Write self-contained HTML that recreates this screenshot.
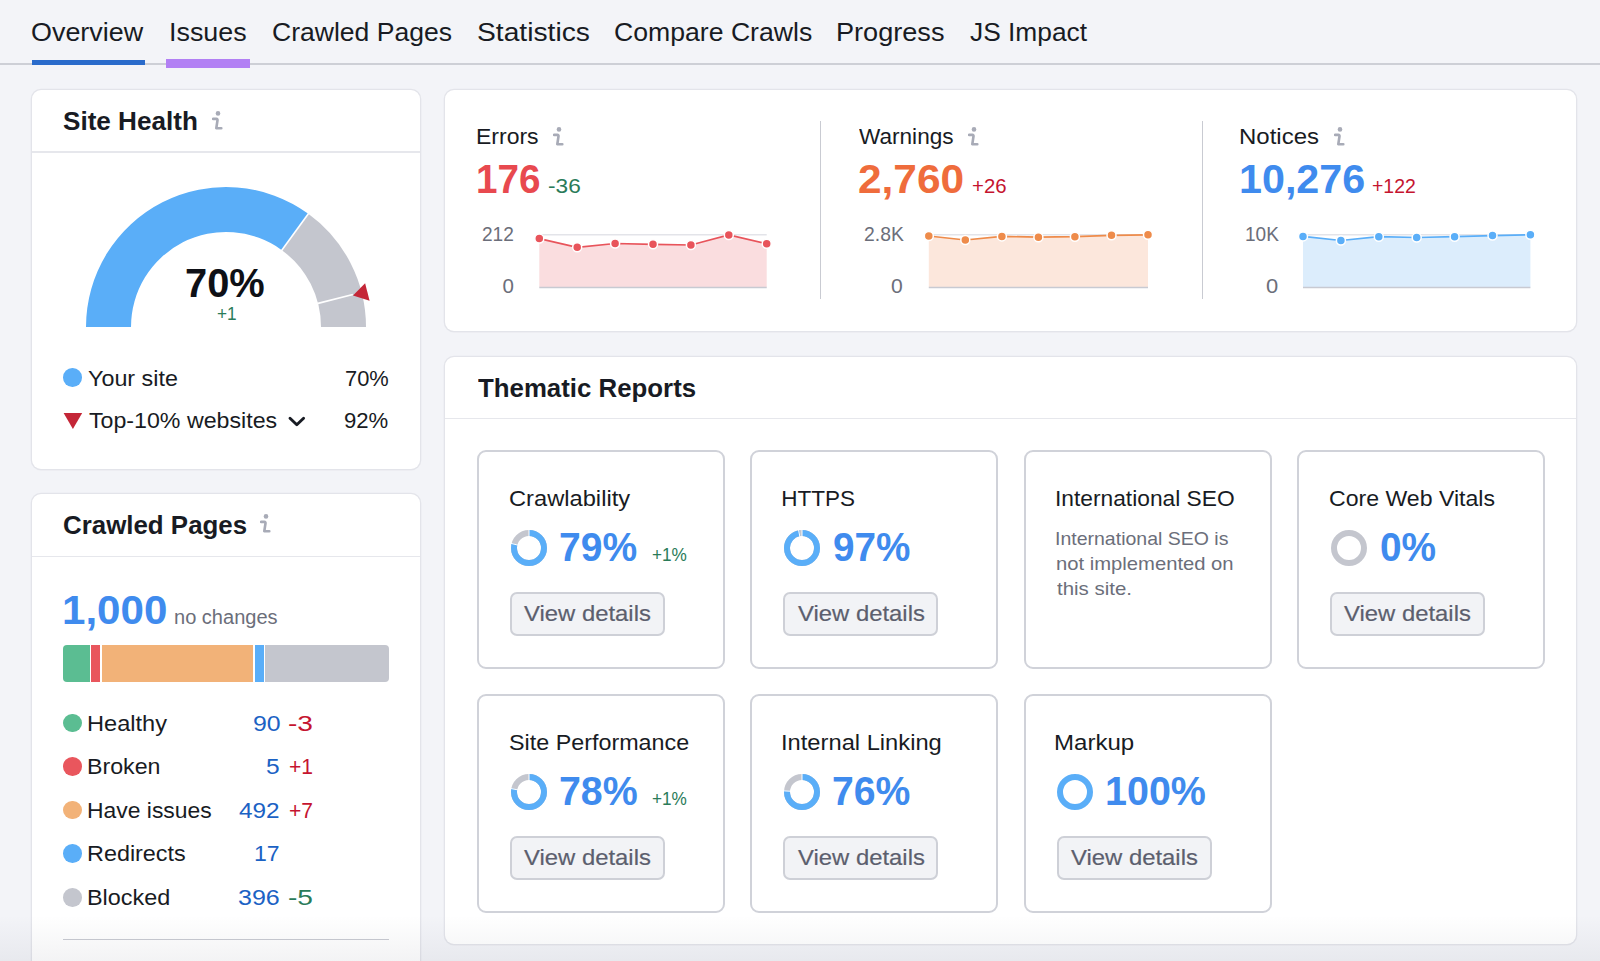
<!DOCTYPE html>
<html><head><meta charset="utf-8"><title>Site Audit Overview</title>
<style>
html,body{margin:0;padding:0;}
body{width:1600px;height:961px;overflow:hidden;position:relative;background:#F3F4F8;font-family:"Liberation Sans", sans-serif;-webkit-font-smoothing:antialiased;}
</style></head><body>
<div style="position:absolute;left:0;top:63px;width:1600px;height:2px;background:#CDCFD6"></div>
<div style="position:absolute;left:32px;top:60px;width:113px;height:5px;background:#2A6BCB"></div>
<div style="position:absolute;left:166px;top:59.2px;width:84px;height:9px;background:#B280F4"></div>
<div style="position:absolute;left:32px;top:90px;width:388px;height:378.8px;background:#fff;border-radius:9px;box-shadow:0 0 0 1.3px #E3E4EA, 0 1px 1.5px rgba(0,0,0,0.07)"></div>
<div style="position:absolute;left:32px;top:494px;width:388px;height:606px;background:#fff;border-radius:9px;box-shadow:0 0 0 1.3px #E3E4EA, 0 1px 1.5px rgba(0,0,0,0.07)"></div>
<div style="position:absolute;left:445px;top:89.5px;width:1131px;height:241.5px;background:#fff;border-radius:9px;box-shadow:0 0 0 1.3px #E3E4EA, 0 1px 1.5px rgba(0,0,0,0.07)"></div>
<div style="position:absolute;left:445px;top:356.5px;width:1131px;height:587.0px;background:#fff;border-radius:9px;box-shadow:0 0 0 1.3px #E3E4EA, 0 1px 1.5px rgba(0,0,0,0.07)"></div>
<div style="position:absolute;left:32px;top:151px;width:388px;height:1.5px;background:#E6E7EC"></div>
<div style="position:absolute;left:32px;top:555.5px;width:388px;height:1.5px;background:#E6E7EC"></div>
<div style="position:absolute;left:445px;top:417.5px;width:1131px;height:1.5px;background:#E6E7EC"></div>
<div style="position:absolute;left:63px;top:938.5px;width:325.5px;height:1.6px;background:#C9CBD2"></div>
<div style="position:absolute;left:819.5px;top:121px;width:1.5px;height:178px;background:#C9CBD2"></div>
<div style="position:absolute;left:1201.5px;top:121px;width:1.5px;height:178px;background:#C9CBD2"></div>
<svg style="position:absolute;left:211.5px;top:111px" width="11" height="20" viewBox="0 0 11 20"><circle cx="6.0" cy="2.4" r="2.3" fill="#A8ABB7"/><path d="M1.0 7.9 H4.4 Q5.7 7.9 5.5 9.3 L4.3 17.2 H9.3" fill="none" stroke="#A8ABB7" stroke-width="2.6" stroke-linecap="round" stroke-linejoin="round"/></svg>
<svg style="position:absolute;left:0;top:0" width="440" height="480"><path d="M86.00,327.00 A140,140 0 0 1 308.29,213.74 L281.84,250.14 A95,95 0 0 0 131.00,327.00 Z" fill="#5AAEF8"/><path d="M308.29,213.74 A140,140 0 0 1 366.00,327.00 L321.00,327.00 A95,95 0 0 0 281.84,250.14 Z" fill="#C4C6CE"/><line x1="281.25" y1="250.95" x2="308.88" y2="212.93" stroke="#fff" stroke-width="1.6"/><line x1="317.05" y1="303.62" x2="352.88" y2="294.42" stroke="#fff" stroke-width="1.6"/><polygon points="353,295.6 365.1,283.2 369.6,300.7" fill="#C42637"/></svg>
<div style="position:absolute;left:63px;top:368.2px;width:18.6px;height:18.6px;border-radius:50%;background:#5AAEF8"></div>
<svg style="position:absolute;left:63px;top:413px" width="20" height="17"><polygon points="0.6,0 19.2,0 9.9,16" fill="#C42637"/></svg>
<svg style="position:absolute;left:286px;top:413px" width="22" height="16"><polyline points="4,5.2 10.8,11.8 17.6,5.2" fill="none" stroke="#181B23" stroke-width="2.9" stroke-linecap="round" stroke-linejoin="round"/></svg>
<svg style="position:absolute;left:260px;top:514px" width="11" height="20" viewBox="0 0 11 20"><circle cx="6.0" cy="2.4" r="2.3" fill="#A8ABB7"/><path d="M1.0 7.9 H4.4 Q5.7 7.9 5.5 9.3 L4.3 17.2 H9.3" fill="none" stroke="#A8ABB7" stroke-width="2.6" stroke-linecap="round" stroke-linejoin="round"/></svg>
<div style="position:absolute;left:63px;top:644.6px;width:326px;height:37.4px;border-radius:4px;overflow:hidden;background:#fff"><div style="position:absolute;left:0.0px;top:0;width:27.0px;height:100%;background:#5BBD92"></div><div style="position:absolute;left:28.4px;top:0;width:8.6px;height:100%;background:#E9565D"></div><div style="position:absolute;left:38.6px;top:0;width:151.8px;height:100%;background:#F2B278"></div><div style="position:absolute;left:192.0px;top:0;width:8.6px;height:100%;background:#5AAEF8"></div><div style="position:absolute;left:202.3px;top:0;width:123.7px;height:100%;background:#C4C6CE"></div></div>
<div style="position:absolute;left:63px;top:713.6px;width:18.6px;height:18.6px;border-radius:50%;background:#5BBD92"></div>
<div style="position:absolute;left:63px;top:757.2px;width:18.6px;height:18.6px;border-radius:50%;background:#E9565D"></div>
<div style="position:absolute;left:63px;top:800.8px;width:18.6px;height:18.6px;border-radius:50%;background:#F2B278"></div>
<div style="position:absolute;left:63px;top:844.4px;width:18.6px;height:18.6px;border-radius:50%;background:#5AAEF8"></div>
<div style="position:absolute;left:63px;top:888.0px;width:18.6px;height:18.6px;border-radius:50%;background:#C4C6CE"></div>
<svg style="position:absolute;left:552.5px;top:127px" width="11" height="20" viewBox="0 0 11 20"><circle cx="6.0" cy="2.4" r="2.3" fill="#A8ABB7"/><path d="M1.0 7.9 H4.4 Q5.7 7.9 5.5 9.3 L4.3 17.2 H9.3" fill="none" stroke="#A8ABB7" stroke-width="2.6" stroke-linecap="round" stroke-linejoin="round"/></svg>
<svg style="position:absolute;left:0;top:0" width="1600" height="340"><line x1="539.3" y1="234.8" x2="766.7" y2="234.8" stroke="#E3E4E9" stroke-width="1.5"/><polygon points="539.3,287.6 539.3,238.6 577.2,247.3 615.1,243.5 653.0,244.3 690.9,245.0 728.8,235.0 766.7,243.7 766.7,287.6" fill="#FADDDF"/><line x1="539.3" y1="287.6" x2="766.7" y2="287.6" stroke="#C8CAD2" stroke-width="1.5"/><polyline points="539.3,238.6 577.2,247.3 615.1,243.5 653.0,244.3 690.9,245.0 728.8,235.0 766.7,243.7" fill="none" stroke="#E8545B" stroke-width="1.7"/><circle cx="539.3" cy="238.6" r="4.5" fill="#E8545B" stroke="#fff" stroke-width="1.5"/><circle cx="577.2" cy="247.3" r="4.5" fill="#E8545B" stroke="#fff" stroke-width="1.5"/><circle cx="615.1" cy="243.5" r="4.5" fill="#E8545B" stroke="#fff" stroke-width="1.5"/><circle cx="653.0" cy="244.3" r="4.5" fill="#E8545B" stroke="#fff" stroke-width="1.5"/><circle cx="690.9" cy="245.0" r="4.5" fill="#E8545B" stroke="#fff" stroke-width="1.5"/><circle cx="728.8" cy="235.0" r="4.5" fill="#E8545B" stroke="#fff" stroke-width="1.5"/><circle cx="766.7" cy="243.7" r="4.5" fill="#E8545B" stroke="#fff" stroke-width="1.5"/></svg>
<svg style="position:absolute;left:968px;top:127px" width="11" height="20" viewBox="0 0 11 20"><circle cx="6.0" cy="2.4" r="2.3" fill="#A8ABB7"/><path d="M1.0 7.9 H4.4 Q5.7 7.9 5.5 9.3 L4.3 17.2 H9.3" fill="none" stroke="#A8ABB7" stroke-width="2.6" stroke-linecap="round" stroke-linejoin="round"/></svg>
<svg style="position:absolute;left:0;top:0" width="1600" height="340"><line x1="928.8" y1="234.8" x2="1148" y2="234.8" stroke="#E3E4E9" stroke-width="1.5"/><polygon points="928.8,287.6 928.8,236.0 965.3,240.0 1001.9,236.4 1038.4,237.2 1074.9,236.7 1111.5,235.3 1148.0,234.8 1148.0,287.6" fill="#FCE7DC"/><line x1="928.8" y1="287.6" x2="1148" y2="287.6" stroke="#C8CAD2" stroke-width="1.5"/><polyline points="928.8,236.0 965.3,240.0 1001.9,236.4 1038.4,237.2 1074.9,236.7 1111.5,235.3 1148.0,234.8" fill="none" stroke="#EE8B4A" stroke-width="1.7"/><circle cx="928.8" cy="236.0" r="4.5" fill="#EE8B4A" stroke="#fff" stroke-width="1.5"/><circle cx="965.3" cy="240.0" r="4.5" fill="#EE8B4A" stroke="#fff" stroke-width="1.5"/><circle cx="1001.9" cy="236.4" r="4.5" fill="#EE8B4A" stroke="#fff" stroke-width="1.5"/><circle cx="1038.4" cy="237.2" r="4.5" fill="#EE8B4A" stroke="#fff" stroke-width="1.5"/><circle cx="1074.9" cy="236.7" r="4.5" fill="#EE8B4A" stroke="#fff" stroke-width="1.5"/><circle cx="1111.5" cy="235.3" r="4.5" fill="#EE8B4A" stroke="#fff" stroke-width="1.5"/><circle cx="1148.0" cy="234.8" r="4.5" fill="#EE8B4A" stroke="#fff" stroke-width="1.5"/></svg>
<svg style="position:absolute;left:1333.5px;top:127px" width="11" height="20" viewBox="0 0 11 20"><circle cx="6.0" cy="2.4" r="2.3" fill="#A8ABB7"/><path d="M1.0 7.9 H4.4 Q5.7 7.9 5.5 9.3 L4.3 17.2 H9.3" fill="none" stroke="#A8ABB7" stroke-width="2.6" stroke-linecap="round" stroke-linejoin="round"/></svg>
<svg style="position:absolute;left:0;top:0" width="1600" height="340"><line x1="1303" y1="234.8" x2="1530.4" y2="234.8" stroke="#E3E4E9" stroke-width="1.5"/><polygon points="1303.0,287.6 1303.0,236.4 1340.9,240.5 1378.8,236.7 1416.7,237.5 1454.6,236.7 1492.5,235.6 1530.4,234.8 1530.4,287.6" fill="#DCEDFC"/><line x1="1303" y1="287.6" x2="1530.4" y2="287.6" stroke="#C8CAD2" stroke-width="1.5"/><polyline points="1303.0,236.4 1340.9,240.5 1378.8,236.7 1416.7,237.5 1454.6,236.7 1492.5,235.6 1530.4,234.8" fill="none" stroke="#5AAEF8" stroke-width="1.7"/><circle cx="1303.0" cy="236.4" r="4.5" fill="#5AAEF8" stroke="#fff" stroke-width="1.5"/><circle cx="1340.9" cy="240.5" r="4.5" fill="#5AAEF8" stroke="#fff" stroke-width="1.5"/><circle cx="1378.8" cy="236.7" r="4.5" fill="#5AAEF8" stroke="#fff" stroke-width="1.5"/><circle cx="1416.7" cy="237.5" r="4.5" fill="#5AAEF8" stroke="#fff" stroke-width="1.5"/><circle cx="1454.6" cy="236.7" r="4.5" fill="#5AAEF8" stroke="#fff" stroke-width="1.5"/><circle cx="1492.5" cy="235.6" r="4.5" fill="#5AAEF8" stroke="#fff" stroke-width="1.5"/><circle cx="1530.4" cy="234.8" r="4.5" fill="#5AAEF8" stroke="#fff" stroke-width="1.5"/></svg>
<div style="position:absolute;left:477px;top:450.3px;width:248px;height:218.5px;box-sizing:border-box;border:2px solid #D0D2D9;border-radius:9px;background:#fff"></div>
<svg style="position:absolute;left:510.6px;top:530.2px" width="36" height="36" viewBox="0 0 36 36"><circle cx="18" cy="18" r="15" fill="none" stroke="#C4C6CE" stroke-width="6"/><circle cx="18" cy="18" r="15" fill="none" stroke="#5AAEF8" stroke-width="6" stroke-dasharray="74.46 94.25" transform="rotate(-90 18 18)"/><line x1="18.00" y1="7.00" x2="18.00" y2="-1.00" stroke="#fff" stroke-width="1"/><line x1="7.35" y1="15.26" x2="-0.40" y2="13.27" stroke="#fff" stroke-width="1"/></svg>
<div style="position:absolute;left:510.0px;top:592.3px;width:155px;height:43.4px;box-sizing:border-box;border:2px solid #CED0D7;border-radius:7px;background:#F2F3F6"></div>
<div style="position:absolute;left:750.2px;top:450.3px;width:248px;height:218.5px;box-sizing:border-box;border:2px solid #D0D2D9;border-radius:9px;background:#fff"></div>
<svg style="position:absolute;left:783.8px;top:530.2px" width="36" height="36" viewBox="0 0 36 36"><circle cx="18" cy="18" r="15" fill="none" stroke="#C4C6CE" stroke-width="6"/><circle cx="18" cy="18" r="15" fill="none" stroke="#5AAEF8" stroke-width="6" stroke-dasharray="91.42 94.25" transform="rotate(-90 18 18)"/><line x1="18.00" y1="7.00" x2="18.00" y2="-1.00" stroke="#fff" stroke-width="1"/><line x1="15.94" y1="7.19" x2="14.44" y2="-0.66" stroke="#fff" stroke-width="1"/></svg>
<div style="position:absolute;left:783.2px;top:592.3px;width:155px;height:43.4px;box-sizing:border-box;border:2px solid #CED0D7;border-radius:7px;background:#F2F3F6"></div>
<div style="position:absolute;left:1023.6px;top:450.3px;width:248px;height:218.5px;box-sizing:border-box;border:2px solid #D0D2D9;border-radius:9px;background:#fff"></div>
<div style="position:absolute;left:1297px;top:450.3px;width:248px;height:218.5px;box-sizing:border-box;border:2px solid #D0D2D9;border-radius:9px;background:#fff"></div>
<svg style="position:absolute;left:1330.6px;top:530.2px" width="36" height="36" viewBox="0 0 36 36"><circle cx="18" cy="18" r="15" fill="none" stroke="#C4C6CE" stroke-width="6"/></svg>
<div style="position:absolute;left:1330.0px;top:592.3px;width:155px;height:43.4px;box-sizing:border-box;border:2px solid #CED0D7;border-radius:7px;background:#F2F3F6"></div>
<div style="position:absolute;left:477px;top:694.3px;width:248px;height:218.5px;box-sizing:border-box;border:2px solid #D0D2D9;border-radius:9px;background:#fff"></div>
<svg style="position:absolute;left:510.6px;top:774.2px" width="36" height="36" viewBox="0 0 36 36"><circle cx="18" cy="18" r="15" fill="none" stroke="#C4C6CE" stroke-width="6"/><circle cx="18" cy="18" r="15" fill="none" stroke="#5AAEF8" stroke-width="6" stroke-dasharray="73.51 94.25" transform="rotate(-90 18 18)"/><line x1="18.00" y1="7.00" x2="18.00" y2="-1.00" stroke="#fff" stroke-width="1"/><line x1="7.19" y1="15.94" x2="-0.66" y2="14.44" stroke="#fff" stroke-width="1"/></svg>
<div style="position:absolute;left:510.0px;top:836.3px;width:155px;height:43.4px;box-sizing:border-box;border:2px solid #CED0D7;border-radius:7px;background:#F2F3F6"></div>
<div style="position:absolute;left:750.2px;top:694.3px;width:248px;height:218.5px;box-sizing:border-box;border:2px solid #D0D2D9;border-radius:9px;background:#fff"></div>
<svg style="position:absolute;left:783.8px;top:774.2px" width="36" height="36" viewBox="0 0 36 36"><circle cx="18" cy="18" r="15" fill="none" stroke="#C4C6CE" stroke-width="6"/><circle cx="18" cy="18" r="15" fill="none" stroke="#5AAEF8" stroke-width="6" stroke-dasharray="71.63 94.25" transform="rotate(-90 18 18)"/><line x1="18.00" y1="7.00" x2="18.00" y2="-1.00" stroke="#fff" stroke-width="1"/><line x1="7.02" y1="17.31" x2="-0.96" y2="16.81" stroke="#fff" stroke-width="1"/></svg>
<div style="position:absolute;left:783.2px;top:836.3px;width:155px;height:43.4px;box-sizing:border-box;border:2px solid #CED0D7;border-radius:7px;background:#F2F3F6"></div>
<div style="position:absolute;left:1023.6px;top:694.3px;width:248px;height:218.5px;box-sizing:border-box;border:2px solid #D0D2D9;border-radius:9px;background:#fff"></div>
<svg style="position:absolute;left:1057.2px;top:774.2px" width="36" height="36" viewBox="0 0 36 36"><circle cx="18" cy="18" r="15" fill="none" stroke="#5AAEF8" stroke-width="6"/></svg>
<div style="position:absolute;left:1056.6px;top:836.3px;width:155px;height:43.4px;box-sizing:border-box;border:2px solid #CED0D7;border-radius:7px;background:#F2F3F6"></div>
<div style="position:absolute;left:31.48px;top:18.50px;font-size:26.5px;line-height:26.5px;font-weight:400;color:#181B23;white-space:nowrap;transform-origin:0 0;transform:scaleX(1.0155);">Overview</div>
<div style="position:absolute;left:169.22px;top:18.50px;font-size:26.5px;line-height:26.5px;font-weight:400;color:#181B23;white-space:nowrap;transform-origin:0 0;transform:scaleX(1.0135);">Issues</div>
<div style="position:absolute;left:272.00px;top:18.50px;font-size:26.5px;line-height:26.5px;font-weight:400;color:#181B23;white-space:nowrap;transform-origin:0 0;transform:scaleX(1.0017);">Crawled Pages</div>
<div style="position:absolute;left:476.74px;top:18.50px;font-size:26.5px;line-height:26.5px;font-weight:400;color:#181B23;white-space:nowrap;transform-origin:0 0;transform:scaleX(1.0644);">Statistics</div>
<div style="position:absolute;left:614.00px;top:18.50px;font-size:26.5px;line-height:26.5px;font-weight:400;color:#181B23;white-space:nowrap;transform-origin:0 0;transform:scaleX(1.0046);">Compare Crawls</div>
<div style="position:absolute;left:836.35px;top:18.50px;font-size:26.5px;line-height:26.5px;font-weight:400;color:#181B23;white-space:nowrap;transform-origin:0 0;transform:scaleX(1.0228);">Progress</div>
<div style="position:absolute;left:970.30px;top:18.50px;font-size:26.5px;line-height:26.5px;font-weight:400;color:#181B23;white-space:nowrap;transform-origin:0 0;transform:scaleX(0.9932);">JS Impact</div>
<div style="position:absolute;left:62.75px;top:107.75px;font-size:26px;line-height:26px;font-weight:700;color:#181B23;white-space:nowrap;transform-origin:0 0;transform:scaleX(1.0038);">Site Health</div>
<div style="position:absolute;left:184.71px;top:263.00px;font-size:40px;line-height:40px;font-weight:700;color:#0E1016;white-space:nowrap;transform-origin:0 0;transform:scaleX(0.9948);">70%</div>
<div style="position:absolute;left:216.50px;top:303.60px;font-size:19px;line-height:19px;font-weight:400;color:#2A7B59;white-space:nowrap;transform-origin:0 0;transform:scaleX(0.9050);">+1</div>
<div style="position:absolute;left:88.36px;top:367.60px;font-size:22.5px;line-height:22.5px;font-weight:400;color:#181B23;white-space:nowrap;transform-origin:0 0;transform:scaleX(1.0365);">Your site</div>
<div style="position:absolute;left:344.83px;top:367.60px;font-size:22.5px;line-height:22.5px;font-weight:400;color:#181B23;white-space:nowrap;transform-origin:0 0;transform:scaleX(0.9721);">70%</div>
<div style="position:absolute;left:89.40px;top:409.60px;font-size:22.5px;line-height:22.5px;font-weight:400;color:#181B23;white-space:nowrap;transform-origin:0 0;transform:scaleX(1.0302);">Top-10% websites</div>
<div style="position:absolute;left:344.32px;top:409.60px;font-size:22.5px;line-height:22.5px;font-weight:400;color:#181B23;white-space:nowrap;transform-origin:0 0;transform:scaleX(0.9837);">92%</div>
<div style="position:absolute;left:62.75px;top:512.10px;font-size:26px;line-height:26px;font-weight:700;color:#181B23;white-space:nowrap;transform-origin:0 0;transform:scaleX(0.9954);">Crawled Pages</div>
<div style="position:absolute;left:61.89px;top:590.00px;font-size:40px;line-height:40px;font-weight:700;color:#3F8BEE;white-space:nowrap;transform-origin:0 0;transform:scaleX(1.0526);">1,000</div>
<div style="position:absolute;left:173.87px;top:607.50px;font-size:19.5px;line-height:19.5px;font-weight:400;color:#6B6E7A;white-space:nowrap;transform-origin:0 0;transform:scaleX(1.0273);">no changes</div>
<div style="position:absolute;left:87.30px;top:712.50px;font-size:22.5px;line-height:22.5px;font-weight:400;color:#181B23;white-space:nowrap;transform-origin:0 0;transform:scaleX(1.0486);">Healthy</div>
<div style="position:absolute;left:252.50px;top:712.50px;font-size:22.5px;line-height:22.5px;font-weight:400;color:#1B62C4;white-space:nowrap;transform-origin:0 0;transform:scaleX(1.1043);">90</div>
<div style="position:absolute;left:288.25px;top:712.50px;font-size:22.5px;line-height:22.5px;font-weight:400;color:#C5142F;white-space:nowrap;transform-origin:0 0;transform:scaleX(1.2500);">-3</div>
<div style="position:absolute;left:87.34px;top:756.10px;font-size:22.5px;line-height:22.5px;font-weight:400;color:#181B23;white-space:nowrap;transform-origin:0 0;transform:scaleX(1.0309);">Broken</div>
<div style="position:absolute;left:265.91px;top:756.10px;font-size:22.5px;line-height:22.5px;font-weight:400;color:#1B62C4;white-space:nowrap;transform-origin:0 0;transform:scaleX(1.0909);">5</div>
<div style="position:absolute;left:288.56px;top:756.10px;font-size:22.5px;line-height:22.5px;font-weight:400;color:#C5142F;white-space:nowrap;transform-origin:0 0;transform:scaleX(0.9375);">+1</div>
<div style="position:absolute;left:87.37px;top:799.70px;font-size:22.5px;line-height:22.5px;font-weight:400;color:#181B23;white-space:nowrap;transform-origin:0 0;transform:scaleX(1.0175);">Have issues</div>
<div style="position:absolute;left:239.00px;top:799.70px;font-size:22.5px;line-height:22.5px;font-weight:400;color:#1B62C4;white-space:nowrap;transform-origin:0 0;transform:scaleX(1.0811);">492</div>
<div style="position:absolute;left:288.56px;top:799.70px;font-size:22.5px;line-height:22.5px;font-weight:400;color:#C5142F;white-space:nowrap;transform-origin:0 0;transform:scaleX(0.9375);">+7</div>
<div style="position:absolute;left:87.32px;top:843.30px;font-size:22.5px;line-height:22.5px;font-weight:400;color:#181B23;white-space:nowrap;transform-origin:0 0;transform:scaleX(1.0391);">Redirects</div>
<div style="position:absolute;left:254.45px;top:843.30px;font-size:22.5px;line-height:22.5px;font-weight:400;color:#1B62C4;white-space:nowrap;transform-origin:0 0;transform:scaleX(1.0227);">17</div>
<div style="position:absolute;left:87.32px;top:886.90px;font-size:22.5px;line-height:22.5px;font-weight:400;color:#181B23;white-space:nowrap;transform-origin:0 0;transform:scaleX(1.0403);">Blocked</div>
<div style="position:absolute;left:237.89px;top:886.90px;font-size:22.5px;line-height:22.5px;font-weight:400;color:#1B62C4;white-space:nowrap;transform-origin:0 0;transform:scaleX(1.1111);">396</div>
<div style="position:absolute;left:288.25px;top:886.90px;font-size:22.5px;line-height:22.5px;font-weight:400;color:#2A7B59;white-space:nowrap;transform-origin:0 0;transform:scaleX(1.2500);">-5</div>
<div style="position:absolute;left:475.74px;top:125.80px;font-size:22.3px;line-height:22.3px;font-weight:400;color:#181B23;white-space:nowrap;transform-origin:0 0;transform:scaleX(1.0310);">Errors</div>
<div style="position:absolute;left:476.17px;top:159.20px;font-size:40px;line-height:40px;font-weight:700;color:#E8494F;white-space:nowrap;transform-origin:0 0;transform:scaleX(0.9656);">176</div>
<div style="position:absolute;left:547.84px;top:177.00px;font-size:19.5px;line-height:19.5px;font-weight:400;color:#2A7B59;white-space:nowrap;transform-origin:0 0;transform:scaleX(1.1615);">-36</div>
<div style="position:absolute;left:482.37px;top:223.50px;font-size:20.5px;line-height:20.5px;font-weight:400;color:#6B6E7A;white-space:nowrap;transform-origin:0 0;transform:scaleX(0.9313);">212</div>
<div style="position:absolute;left:502.60px;top:276.30px;font-size:20.5px;line-height:20.5px;font-weight:400;color:#6B6E7A;white-space:nowrap;transform-origin:0 0;transform:scaleX(1.0000);">0</div>
<div style="position:absolute;left:859.20px;top:125.80px;font-size:22.3px;line-height:22.3px;font-weight:400;color:#181B23;white-space:nowrap;transform-origin:0 0;transform:scaleX(1.0129);">Warnings</div>
<div style="position:absolute;left:858.44px;top:159.20px;font-size:40px;line-height:40px;font-weight:700;color:#EF6C3C;white-space:nowrap;transform-origin:0 0;transform:scaleX(1.0602);">2,760</div>
<div style="position:absolute;left:971.95px;top:177.00px;font-size:19.5px;line-height:19.5px;font-weight:400;color:#C5142F;white-space:nowrap;transform-origin:0 0;transform:scaleX(1.0452);">+26</div>
<div style="position:absolute;left:863.76px;top:223.50px;font-size:20.5px;line-height:20.5px;font-weight:400;color:#6B6E7A;white-space:nowrap;transform-origin:0 0;transform:scaleX(0.9439);">2.8K</div>
<div style="position:absolute;left:891.47px;top:276.30px;font-size:20.5px;line-height:20.5px;font-weight:400;color:#6B6E7A;white-space:nowrap;transform-origin:0 0;transform:scaleX(1.0300);">0</div>
<div style="position:absolute;left:1238.85px;top:125.80px;font-size:22.3px;line-height:22.3px;font-weight:400;color:#181B23;white-space:nowrap;transform-origin:0 0;transform:scaleX(1.0764);">Notices</div>
<div style="position:absolute;left:1238.94px;top:159.20px;font-size:40px;line-height:40px;font-weight:700;color:#3F8BEE;white-space:nowrap;transform-origin:0 0;transform:scaleX(1.0311);">10,276</div>
<div style="position:absolute;left:1371.70px;top:177.00px;font-size:19.5px;line-height:19.5px;font-weight:400;color:#C5142F;white-space:nowrap;transform-origin:0 0;transform:scaleX(0.9976);">+122</div>
<div style="position:absolute;left:1245.07px;top:223.50px;font-size:20.5px;line-height:20.5px;font-weight:400;color:#6B6E7A;white-space:nowrap;transform-origin:0 0;transform:scaleX(0.9286);">10K</div>
<div style="position:absolute;left:1265.93px;top:276.30px;font-size:20.5px;line-height:20.5px;font-weight:400;color:#6B6E7A;white-space:nowrap;transform-origin:0 0;transform:scaleX(1.0700);">0</div>
<div style="position:absolute;left:477.70px;top:375.00px;font-size:26px;line-height:26px;font-weight:700;color:#181B23;white-space:nowrap;transform-origin:0 0;transform:scaleX(0.9932);">Thematic Reports</div>
<div style="position:absolute;left:508.95px;top:488.10px;font-size:22.5px;line-height:22.5px;font-weight:400;color:#181B23;white-space:nowrap;transform-origin:0 0;transform:scaleX(1.0526);">Crawlability</div>
<div style="position:absolute;left:558.85px;top:527.10px;font-size:40px;line-height:40px;font-weight:700;color:#3F8BEE;white-space:nowrap;transform-origin:0 0;transform:scaleX(0.9753);">79%</div>
<div style="position:absolute;left:652.09px;top:545.00px;font-size:19px;line-height:19px;font-weight:400;color:#2A7B59;white-space:nowrap;transform-origin:0 0;transform:scaleX(0.9054);">+1%</div>
<div style="position:absolute;left:524.40px;top:603.00px;font-size:22.5px;line-height:22.5px;font-weight:400;color:#5C5F6E;white-space:nowrap;transform-origin:0 0;transform:scaleX(1.0605);-webkit-text-stroke:0.2px #5C5F6E;">View details</div>
<div style="position:absolute;left:781.20px;top:488.10px;font-size:22.5px;line-height:22.5px;font-weight:400;color:#181B23;white-space:nowrap;transform-origin:0 0;transform:scaleX(1.0000);">HTTPS</div>
<div style="position:absolute;left:833.03px;top:527.10px;font-size:40px;line-height:40px;font-weight:700;color:#3F8BEE;white-space:nowrap;transform-origin:0 0;transform:scaleX(0.9667);">97%</div>
<div style="position:absolute;left:797.60px;top:603.00px;font-size:22.5px;line-height:22.5px;font-weight:400;color:#5C5F6E;white-space:nowrap;transform-origin:0 0;transform:scaleX(1.0605);-webkit-text-stroke:0.2px #5C5F6E;">View details</div>
<div style="position:absolute;left:1054.58px;top:488.10px;font-size:22.5px;line-height:22.5px;font-weight:400;color:#181B23;white-space:nowrap;transform-origin:0 0;transform:scaleX(1.0114);">International SEO</div>
<div style="position:absolute;left:1055.15px;top:528.60px;font-size:19px;line-height:19px;font-weight:400;color:#6B6E7A;white-space:nowrap;transform-origin:0 0;transform:scaleX(1.0263);">International SEO is</div>
<div style="position:absolute;left:1056.14px;top:554.00px;font-size:19px;line-height:19px;font-weight:400;color:#6B6E7A;white-space:nowrap;transform-origin:0 0;transform:scaleX(1.0642);">not implemented on</div>
<div style="position:absolute;left:1057.20px;top:578.80px;font-size:19px;line-height:19px;font-weight:400;color:#6B6E7A;white-space:nowrap;transform-origin:0 0;transform:scaleX(1.0750);">this site.</div>
<div style="position:absolute;left:1328.97px;top:488.10px;font-size:22.5px;line-height:22.5px;font-weight:400;color:#181B23;white-space:nowrap;transform-origin:0 0;transform:scaleX(1.0263);">Core Web Vitals</div>
<div style="position:absolute;left:1379.83px;top:527.10px;font-size:40px;line-height:40px;font-weight:700;color:#3F8BEE;white-space:nowrap;transform-origin:0 0;transform:scaleX(0.9705);">0%</div>
<div style="position:absolute;left:1344.40px;top:603.00px;font-size:22.5px;line-height:22.5px;font-weight:400;color:#5C5F6E;white-space:nowrap;transform-origin:0 0;transform:scaleX(1.0605);-webkit-text-stroke:0.2px #5C5F6E;">View details</div>
<div style="position:absolute;left:508.96px;top:732.10px;font-size:22.5px;line-height:22.5px;font-weight:400;color:#181B23;white-space:nowrap;transform-origin:0 0;transform:scaleX(1.0366);">Site Performance</div>
<div style="position:absolute;left:558.83px;top:771.10px;font-size:40px;line-height:40px;font-weight:700;color:#3F8BEE;white-space:nowrap;transform-origin:0 0;transform:scaleX(0.9831);">78%</div>
<div style="position:absolute;left:652.09px;top:789.00px;font-size:19px;line-height:19px;font-weight:400;color:#2A7B59;white-space:nowrap;transform-origin:0 0;transform:scaleX(0.9054);">+1%</div>
<div style="position:absolute;left:524.40px;top:847.00px;font-size:22.5px;line-height:22.5px;font-weight:400;color:#5C5F6E;white-space:nowrap;transform-origin:0 0;transform:scaleX(1.0605);-webkit-text-stroke:0.2px #5C5F6E;">View details</div>
<div style="position:absolute;left:781.09px;top:732.10px;font-size:22.5px;line-height:22.5px;font-weight:400;color:#181B23;white-space:nowrap;transform-origin:0 0;transform:scaleX(1.0537);">Internal Linking</div>
<div style="position:absolute;left:832.04px;top:771.10px;font-size:40px;line-height:40px;font-weight:700;color:#3F8BEE;white-space:nowrap;transform-origin:0 0;transform:scaleX(0.9792);">76%</div>
<div style="position:absolute;left:797.60px;top:847.00px;font-size:22.5px;line-height:22.5px;font-weight:400;color:#5C5F6E;white-space:nowrap;transform-origin:0 0;transform:scaleX(1.0605);-webkit-text-stroke:0.2px #5C5F6E;">View details</div>
<div style="position:absolute;left:1054.46px;top:732.10px;font-size:22.5px;line-height:22.5px;font-weight:400;color:#181B23;white-space:nowrap;transform-origin:0 0;transform:scaleX(1.0681);">Markup</div>
<div style="position:absolute;left:1105.43px;top:771.10px;font-size:40px;line-height:40px;font-weight:700;color:#3F8BEE;white-space:nowrap;transform-origin:0 0;transform:scaleX(0.9865);">100%</div>
<div style="position:absolute;left:1071.00px;top:847.00px;font-size:22.5px;line-height:22.5px;font-weight:400;color:#5C5F6E;white-space:nowrap;transform-origin:0 0;transform:scaleX(1.0605);-webkit-text-stroke:0.2px #5C5F6E;">View details</div>
<div style="position:absolute;left:0;top:915px;width:1600px;height:46px;background:linear-gradient(rgba(20,25,50,0),rgba(20,25,50,0.05))"></div>
</body></html>
